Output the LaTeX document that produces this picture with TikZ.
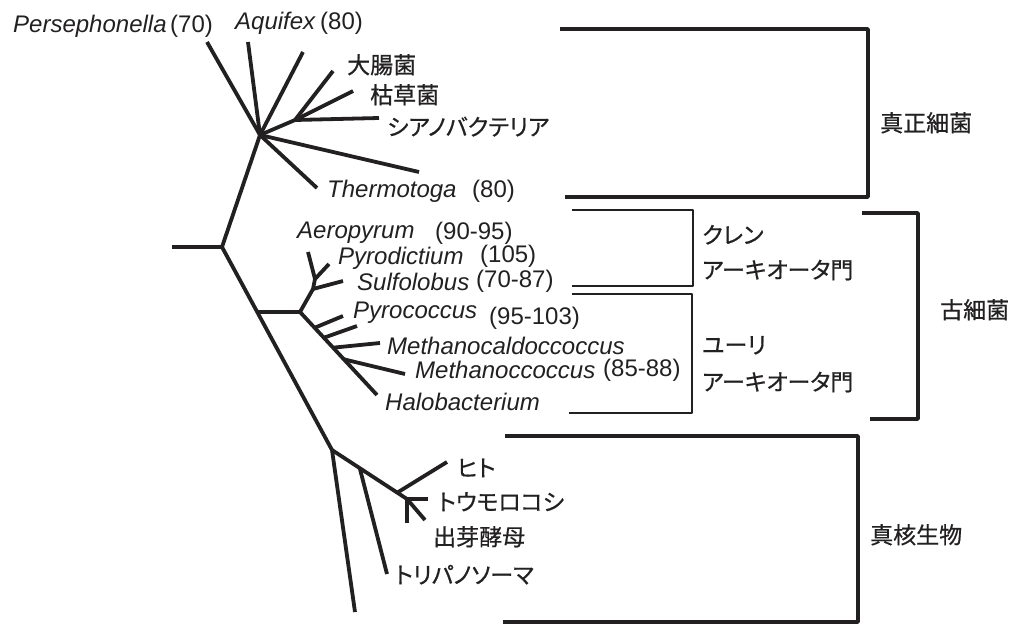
\documentclass[tikz,border=0pt]{standalone}
\usepackage{fontspec}
\setmainfont{Liberation Sans}
\newfontfamily\jp[RawFeature=+palt,FakeBold=0.6]{Noto Sans CJK JP}
\usetikzlibrary{calc}
\definecolor{ink}{RGB}{34,32,33}
\begin{document}
\begin{tikzpicture}[x=1pt,y=-1pt,
  branch/.style={draw=ink,line width=3.8pt},
  thickbr/.style={draw=ink,line width=3.4pt,line join=round},
  thinbr/.style={draw=ink,line width=1.6pt,line join=round},
  lab/.style={inner sep=0pt,anchor=west,text=ink,text height=17pt,text depth=0pt,
              font=\fontsize{24}{28}\selectfont},
  sp/.style={lab,font=\fontsize{24}{28}\selectfont\itshape},
  jl/.style={lab,font=\fontsize{23}{28}\selectfont\jp}]
\useasboundingbox (0,0) rectangle (1012,624);

% ---------- tree: branch points ----------
\coordinate (r0) at (172,247);
\coordinate (r1) at (222,247);
\coordinate (b0) at (260,135);
\coordinate (bs) at (295,120);
\coordinate (k0) at (332,450);
\coordinate (a1) at ($(r1)!0.32!(k0)$);
\coordinate (a0) at (300,312);
\coordinate (c0) at (313,289);
\coordinate (c1) at (315,279);
\coordinate (et) at (377,395);
\coordinate (k2) at (407,499);

% bacterial tips
\coordinate (tPer) at (207,42);
\coordinate (tAqu) at (248,42);
\coordinate (tB3)  at (303,52);
\coordinate (tEco) at (333,71);
\coordinate (tBsu) at (353,91);
\coordinate (tCya) at (379,118);
\coordinate (tLong) at (419,172);
\coordinate (tThe) at (317,188);

% crenarchaeal tips
\coordinate (tAer) at (308,252);
\coordinate (tPyd) at (329,264);
\coordinate (tSul) at (343,281);

% euryarchaeal tips
\coordinate (tE1) at (343,316);
\coordinate (tE2) at (357,326);
\coordinate (tE3) at (380,343);
\coordinate (tE4) at (405,374);

% eukaryotic tips
\coordinate (kBot) at (355,612);
\coordinate (kTry) at (387,574);
\coordinate (kHum) at (447,462);
\coordinate (kMai) at (428,499);
\coordinate (kYea) at (425,520);
\coordinate (kV)   at (407,523);

% ---------- tree: branches ----------
\draw[branch] (r0) -- (r1);
\draw[branch] (r1) -- (b0);
\draw[branch] (r1) -- (k0);

\draw[branch] (b0) -- (tPer);
\draw[branch] (b0) -- (tAqu);
\draw[branch] (b0) -- (tB3);
\draw[branch] (b0) -- (bs);
\draw[branch] (bs) -- (tEco);
\draw[branch] (bs) -- (tBsu);
\draw[branch] (bs) -- (tCya);
\draw[branch] (b0) -- (tLong);
\draw[branch] (b0) -- (tThe);

\draw[branch] (a1) -- (a0);
\draw[branch] (a0) -- (c0);
\draw[branch] (c0) -- (tSul);
\draw[branch] (c0) -- (c1);
\draw[branch] (c1) -- (tAer);
\draw[branch] (c1) -- (tPyd);

\draw[branch] (a0) -- (et);
\draw[branch] ($(a0)!0.19!(et)$) -- (tE1);
\draw[branch] ($(a0)!0.31!(et)$) -- (tE2);
\draw[branch] ($(a0)!0.43!(et)$) -- (tE3);
\draw[branch] ($(a0)!0.57!(et)$) -- (tE4);

\draw[branch] (k0) -- (kBot);
\draw[branch] (k0) -- (k2);
\draw[branch] ($(k0)!0.37!(k2)$) -- (kTry);
\draw[branch] ($(k0)!0.87!(k2)$) -- (kHum);
\draw[branch] (k2) -- (kMai);
\draw[branch] (k2) -- (kYea);
\draw[branch] (k2) -- (kV);

% ---------- leaf labels ----------
\node[sp]  (nPer)  at (13,24)  {Persephonella};
\node[lab] (nPerT) at (170,24) {(70)};
\node[sp]  (nAqu)  at (235,21) {Aquifex};
\node[lab] (nAquT) at (320,21) {(80)};
\node[jl]  (nEco)  at (347,65) {大腸菌};
\node[jl]  (nBsu)  at (370,95) {枯草菌};
\node[jl]  (nCya)  at (387,127) {シアノバクテリア};
\node[sp]  (nThe)  at (327,189) {Thermotoga};
\node[lab] (nTheT) at (472,189) {(80)};

\node[sp]  (nAer)  at (297,230) {Aeropyrum};
\node[lab] (nAerT) at (435,231) {(90-95)};
\node[sp]  (nPyd)  at (338,256) {Pyrodictium};
\node[lab] (nPydT) at (480,254) {(105)};
\node[sp]  (nSul)  at (357,282) {Sulfolobus};
\node[lab] (nSulT) at (476,279) {(70-87)};
\node[sp]  (nPyc)  at (353,310) {Pyrococcus};
\node[lab] (nPycT) at (489,316) {(95-103)};
\node[sp]  (nMcd)  at (387,346) {Methanocaldoccoccus};
\node[sp]  (nMco)  at (415,370) {Methanoccoccus};
\node[lab] (nMcoT) at (603,368) {(85-88)};
\node[sp]  (nHal)  at (385,402) {Halobacterium};

\node[jl]  (nHum)  at (457,468) {ヒト};
\node[jl]  (nMai)  at (438,502) {トウモロコシ};
\node[jl]  (nYea)  at (433,537) {出芽酵母};
\node[jl]  (nTry)  at (395,575) {トリパノソーマ};

% ---------- group brackets ----------
\draw[thickbr] (560,29) -- (868,29) -- (868,197) -- (565,197);
\node[jl] (gBac) at (880,123) {真正細菌};

\draw[thinbr] (572,210) -- (693,210) -- (693,286) -- (572,286);
\node[jl] (gCre1) at (702,235) {クレン};
\node[jl] (gCre2) at (702,270) {アーキオータ門};

\draw[thinbr] (572,294) -- (692,294) -- (692,413) -- (569,413);
\node[jl] (gEur1) at (702,345) {ユーリ};
\node[jl] (gEur2) at (702,382) {アーキオータ門};

\draw[thickbr] (862,213) -- (918,213) -- (918,419) -- (870,419);
\node[jl] (gArc) at (940,310) {古細菌};

\draw[thickbr] (505,436) -- (858,436) -- (858,622) -- (503,622);
\node[jl] (gEuk) at (870,535) {真核生物};
\end{tikzpicture}
\end{document}
